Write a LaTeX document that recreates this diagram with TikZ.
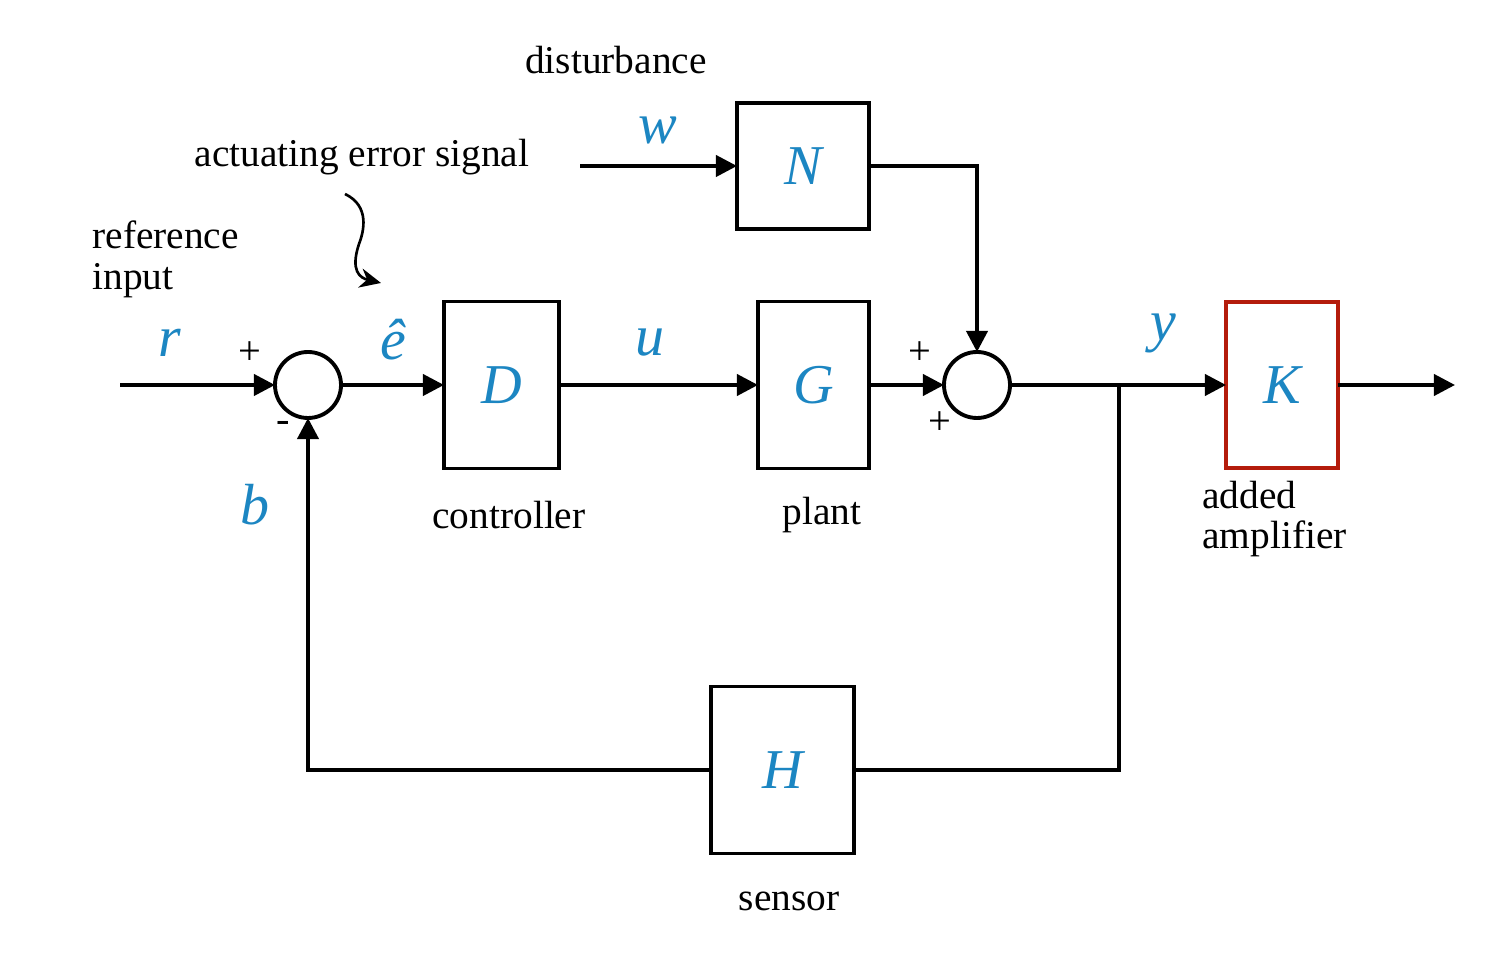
\documentclass[tikz,border=0pt]{standalone}
\usepackage{fontspec}
\setmainfont{Liberation Serif}
\usetikzlibrary{arrows.meta}
\definecolor{sigblue}{RGB}{28,134,194}
\definecolor{ampred}{RGB}{180,28,12}

\begin{document}
\begin{tikzpicture}[
		block/.style={draw, line width=1.1pt, inner sep=0pt, outer sep=0pt, font=\fontsize{16}{16}\selectfont\itshape, text=sigblue},
		sumnode/.style={draw, circle, line width=1.1pt, minimum size=0.66cm, inner sep=0pt, outer sep=0pt},
		sig/.style={line width=1.1pt, -{Triangle[length=6pt,width=6pt]}},
		wire/.style={line width=1.1pt},
		varlabel/.style={text=sigblue, font=\fontsize{16.5}{16.5}\selectfont\itshape},
		caption/.style={font=\fontsize{11.2}{11.6}\selectfont},
		signlabel/.style={font=\fontsize{11.5}{11.5}\selectfont}
	]
		\useasboundingbox (0, 0) rectangle (14.9, 9.76);
		
		%%%%% BLOCKS %%%%%
		
		\node[sumnode] (sum1) at (3.08, 5.91) {};
		\node[sumnode] (sum2) at (9.77, 5.91) {};
		
		\node[block, minimum width=1.15cm, minimum height=1.67cm] (D) at (5.015, 5.91) {D};
		\node[block, minimum width=1.11cm, minimum height=1.67cm] (G) at (8.135, 5.91) {G};
		\node[block, minimum width=1.32cm, minimum height=1.26cm] (N) at (8.03, 8.10) {N};
		\node[block, draw=ampred, minimum width=1.12cm, minimum height=1.66cm] (K) at (12.82, 5.91) {K};
		\node[block, minimum width=1.43cm, minimum height=1.67cm] (H) at (7.825, 2.06) {H};
		
		\coordinate (rin) at (1.20, 5.91);
		\coordinate (win) at (5.80, 8.10);
		\coordinate (yout) at (14.55, 5.91);
		\coordinate (branch) at (11.19, 5.91);
		
		%%%%% SIGNALS %%%%%
		
		\draw[sig] (rin) -- (sum1.west);
		\draw[sig] (sum1.east) -- (D.west);
		\draw[sig] (D.east) -- (G.west);
		\draw[sig] (G.east) -- (sum2.west);
		\draw[sig] (win) -- (N.west);
		\draw[sig] (N.east) -| (sum2.north);
		\draw[sig] (sum2.east) -- (K.west);
		\draw[sig] (K.east) -- (yout);
		
		\draw[wire] (branch) |- (H.east);
		\draw[sig] (H.west) -| (sum1.south);
		
		%%%%% LABELS %%%%%
		
		\node[caption] (dist) at (6.16, 9.16) {disturbance};
		\node[caption] (aes) at (3.62, 8.19) {actuating error signal};
		\node[caption, align=left, anchor=west] (refin) at (0.80, 7.17) {reference\\input};
		\node[caption] (ctrl) at (5.09, 4.61) {controller};
		\node[caption] (plnt) at (8.22, 4.61) {plant};
		\node[caption, align=left, anchor=west] (amp) at (11.90, 4.57) {added\\amplifier};
		\node[caption] (sens) at (7.89, 0.75) {sensor};
		
		\draw[line width=0.75pt, -{Stealth[length=6pt,width=5.5pt]}] (3.45, 7.82) .. controls (3.70, 7.70) and (3.64, 7.45) .. (3.59, 7.32) .. controls (3.50, 7.05) and (3.60, 6.98) .. (3.81, 6.93);
		
		\node[varlabel] (w) at (6.58, 8.46) {w};
		\node[varlabel] (r) at (1.70, 6.33) {r};
		\node[varlabel] (ehat) at (3.93, 6.36) {\^{e}};
		\node[varlabel] (u) at (6.50, 6.33) {u};
		\node[varlabel] (y) at (11.63, 6.43) {y};
		\node[varlabel] (b) at (2.55, 4.71) {b};
		
		\node[signlabel] (p1) at (2.50, 6.23) {+};
		\node[signlabel] (m1) at (2.83, 5.49) {-};
		\node[signlabel] (p2) at (9.20, 6.23) {+};
		\node[signlabel] (p3) at (9.40, 5.53) {+};
		
	\end{tikzpicture}
\end{document}
